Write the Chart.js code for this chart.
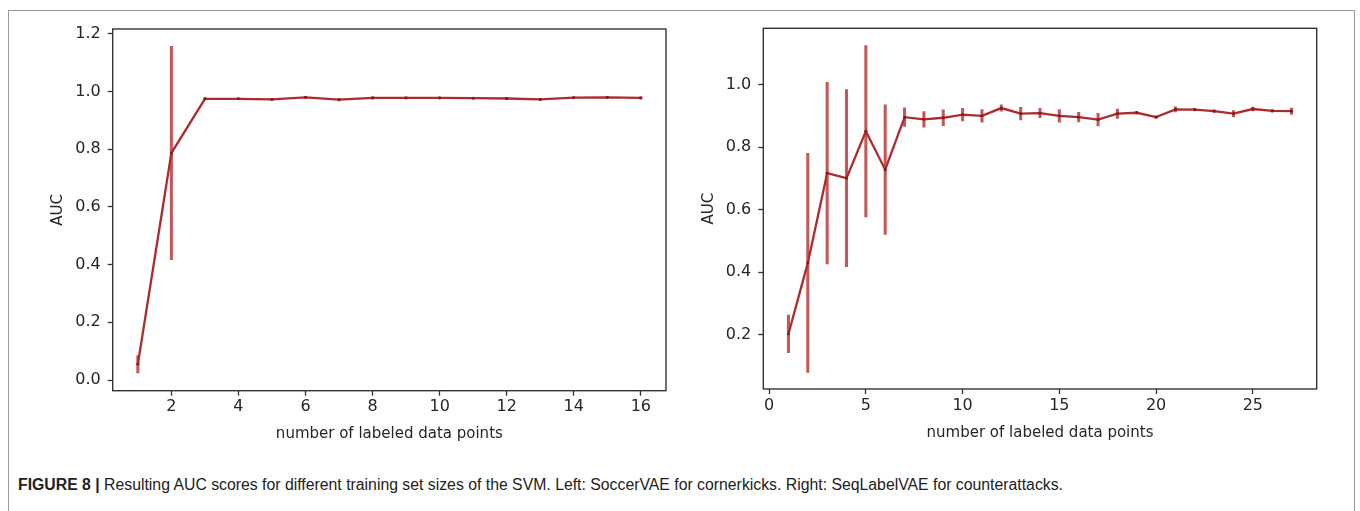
<!DOCTYPE html>
<html>
<head>
<meta charset="utf-8">
<script src="https://cdn.jsdelivr.net/npm/chart.js@4/dist/chart.umd.min.js"></script>
<style>
  html, body { margin: 0; padding: 0; background: #fff; }
  body { width: 1360px; height: 511px; position: relative; overflow: hidden; }
  #frame { position: absolute; left: 8px; top: 10px; width: 1347px; height: 520px; border: 1px solid #9a9a9a; box-sizing: border-box; }
  .wrap { position: absolute; top: 0; width: 680px; height: 455px; }
  #caption { position: absolute; left: 18px; top: 476px; white-space: nowrap; font-family: "Liberation Sans Narrow", "Liberation Sans", Arial, sans-serif; font-size: 16px; color: #222; transform-origin: 0 0; }
  #caption b { font-weight: bold; }
</style>
</head>
<body>
<div id="frame"></div>
<div class="wrap" style="left:0"><canvas id="left" width="680" height="455"></canvas></div>
<div class="wrap" style="left:680px"><canvas id="right" width="680" height="455"></canvas></div>
<div id="caption"><b>FIGURE 8 |</b> Resulting AUC scores for different training set sizes of the SVM. Left: SoccerVAE for cornerkicks. Right: SeqLabelVAE for counterattacks.</div>
<script>
// ---- data ----
const leftX = [1,2,3,4,5,6,7,8,9,10,11,12,13,14,15,16];
const leftAUC = [0.055,0.787,0.975,0.975,0.973,0.980,0.972,0.978,0.978,0.978,0.977,0.976,0.973,0.979,0.980,0.978];
const leftErr = [0.030,0.370,0.004,0.003,0.003,0.003,0.004,0.004,0.003,0.003,0.003,0.003,0.004,0.003,0.003,0.004];
const leftXTicks = [2,4,6,8,10,12,14,16];
const leftYTicks = [0.0,0.2,0.4,0.6,0.8,1.0,1.2];

const rightX = [1,2,3,4,5,6,7,8,9,10,11,12,13,14,15,16,17,18,19,20,21,22,23,24,25,26,27];
const rightAUC = [0.203,0.430,0.717,0.701,0.851,0.728,0.896,0.889,0.894,0.904,0.900,0.925,0.907,0.909,0.900,0.896,0.888,0.907,0.910,0.896,0.921,0.920,0.915,0.907,0.922,0.916,0.915];
const rightErr = [0.060,0.350,0.290,0.283,0.274,0.207,0.030,0.025,0.025,0.020,0.020,0.010,0.020,0.015,0.020,0.015,0.020,0.015,0.004,0.004,0.008,0.004,0.004,0.010,0.006,0.004,0.010];
const rightXTicks = [0,5,10,15,20,25];
const rightYTicks = [0.2,0.4,0.6,0.8,1.0];

const xTitle = 'number of labeled data points';
const yTitle = 'AUC';

// ---- style ----
const LINE = 'rgb(172,44,46)';
const ERR = 'rgba(188,58,60,0.85)';
const AX = '#333';
const TICKFONT = { family: 'DejaVu Sans', size: 16 };
const TITLEFONT = { family: 'DejaVu Sans', size: 15 };

const framePlugin = {
  id: 'frame',
  afterDraw(chart) {
    const a = chart.chartArea, c = chart.ctx;
    c.save();
    c.strokeStyle = AX; c.lineWidth = 1.4;
    c.strokeRect(a.left, a.top, a.right - a.left, a.bottom - a.top);
    c.restore();
  }
};

function build(id, xs, ys, es, xt, yt, cfg) {
  const line = xs.map((x, i) => ({ x, y: ys[i] }));
  const bars = xs.map((x, i) => ({ x, y: [ys[i] - es[i], ys[i] + es[i]] }));
  new Chart(document.getElementById(id), {
    type: 'line',
    data: {
      datasets: [
        { type: 'line', data: line, borderColor: LINE, backgroundColor: LINE, borderWidth: 2.3,
          pointRadius: 1.4, pointBackgroundColor: 'rgb(125,25,28)', pointBorderWidth: 0, tension: 0, order: 1 },
        { type: 'bar', data: bars, backgroundColor: ERR, borderWidth: 0, barThickness: 2.4, order: 2 }
      ]
    },
    options: {
      responsive: false, animation: false, events: [],
      layout: { padding: cfg.pad },
      plugins: { legend: { display: false }, tooltip: { enabled: false } },
      scales: {
        x: {
          type: 'linear', min: cfg.xmin, max: cfg.xmax, offset: false,
          afterBuildTicks: s => { s.ticks = xt.map(v => ({ value: v })); },
          afterFit: s => { s.height = cfg.xh; },
          grid: { display: true, drawOnChartArea: false, drawTicks: true, tickLength: 5, tickColor: AX, tickWidth: 1.3, offset: false },
          border: { display: false },
          ticks: { color: '#262626', font: TICKFONT, padding: 2, maxRotation: 0, callback: v => String(v) },
          title: { display: true, text: xTitle, color: '#262626', font: TITLEFONT, padding: { top: 4, bottom: 4 } }
        },
        y: {
          type: 'linear', min: cfg.ymin, max: cfg.ymax,
          afterBuildTicks: s => { s.ticks = yt.map(v => ({ value: v })); },
          afterFit: s => { s.width = cfg.yw; },
          grid: { display: true, drawOnChartArea: false, drawTicks: true, tickLength: 5, tickColor: AX, tickWidth: 1.3 },
          border: { display: false },
          ticks: { color: '#262626', font: TICKFONT, padding: 7, callback: v => v.toFixed(1) },
          title: { display: true, text: yTitle, color: '#262626', font: TITLEFONT, padding: { top: 4, bottom: 4 } }
        }
      }
    },
    plugins: [framePlugin]
  });
}

build('left', leftX, leftAUC, leftErr, leftXTicks, leftYTicks, {
  pad: { left: 45, right: 14, top: 29, bottom: 8 },
  xh: 56.3, yw: 67.7, xmin: 0.25, xmax: 16.75, ymin: -0.037, ymax: 1.217
});
build('right', rightX, rightAUC, rightErr, rightXTicks, rightYTicks, {
  pad: { left: 16, right: 43.3, top: 28.3, bottom: 9 },
  xh: 57, yw: 67.3, xmin: -0.3, xmax: 28.3, ymin: 0.027, ymax: 1.18
});

// fit caption width to reference (~1045px)
const cap = document.getElementById('caption');
const w = cap.getBoundingClientRect().width;
cap.style.transform = 'scaleX(' + (1045 / w) + ')';
</script>
</body>
</html>
